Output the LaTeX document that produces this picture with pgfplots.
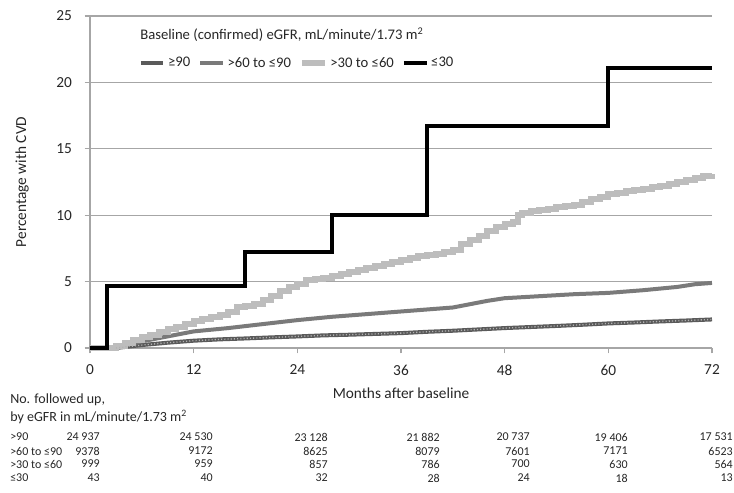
\documentclass[border=0pt]{standalone}
\usepackage{fontspec}
\setmainfont{Carlito}
\usepackage{pgfplots}
\pgfplotsset{compat=1.18}
\definecolor{gridgray}{HTML}{A6A6A6}
\definecolor{darkser}{HTML}{5A5A5A}
\definecolor{midser}{HTML}{7A7A7A}
\definecolor{lightser}{HTML}{BDBDBD}
\begin{document}
\begin{tikzpicture}
\begin{axis}[
  scale only axis,
  width=466.5pt, height=249pt,
  xmin=0, xmax=72, ymin=0, ymax=25,
  axis lines=left,
  axis line style={-, gridgray, line width=0.9pt},
  xtick={0,12,...,72}, ytick={0,5,...,25},
  tick align=outside,
  major tick length=4pt,
  tick style={gridgray, line width=0.9pt},
  ymajorgrids, grid style={gridgray, line width=0.9pt},
  /pgf/number format/assume math mode=true,
  ticklabel style={font=\fontsize{11.5}{13}\selectfont, color=black!85},
  xticklabel style={yshift=-5pt},
  yticklabel style={xshift=-6pt},
  xlabel={Months after baseline},
  ylabel={Percentage with CVD},
  every axis x label/.style={at={(axis description cs:0.5,0)}, anchor=center, yshift=-34pt, font=\fontsize{11.5}{13}\selectfont, color=black!85},
  every axis y label/.style={at={(axis description cs:-0.1093,0.5)}, rotate=90, anchor=center, font=\fontsize{11.5}{13}\selectfont, color=black!85},
  clip=false,
  legend columns=4,
  legend style={at={(rel axis cs:0.078,0.858)}, anchor=west, draw=none, fill=none, inner sep=0pt,
    font=\fontsize{11}{13}\selectfont, text=black!85,
    /tikz/every even column/.append style={column sep=4pt}},
  legend image code/.code={\draw[#1] (0pt,0pt) -- (17pt,0pt);},
]
% >=90
\addplot[darkser, line width=3pt] coordinates {
(0,0) (3,0) (6,0.22) (9,0.4) (12,0.55) (15,0.65) (18,0.72) (21,0.8) (24,0.87) (27,0.95) (30,1.0) (33,1.06) (36,1.12) (39,1.22) (42,1.3) (45,1.4) (48,1.5) (51,1.58) (54,1.66) (57,1.75) (60,1.85) (63,1.92) (66,2.0) (69,2.07) (72,2.15)};
\addlegendentry{≥90}
% >60 to <=90
\addplot[midser, line width=3pt] coordinates {
(0,0) (2,0) (4,0.2) (6,0.5) (8,0.75) (10,1.0) (12,1.25) (16,1.5) (20,1.8) (24,2.1) (28,2.35) (32,2.55) (36,2.75) (40,2.95) (42,3.05) (44,3.3) (46,3.55) (48,3.75) (52,3.9) (56,4.05) (60,4.15) (64,4.35) (68,4.6) (70,4.8) (72,4.9)};
\addlegendentry{>60 to ≤90}
% >30 to <=60
\addplot[lightser, line width=4.5pt, const plot] coordinates {
(0,0) (2,0) (3,0.15) (4,0.4) (5,0.6) (6,0.8) (7,1.0) (8,1.2) (9,1.4) (10,1.6) (11,1.8) (12,2.0) (13,2.15) (14,2.3) (15,2.5) (16,2.7) (17,3.1) (18,3.2) (19,3.3) (20,3.6) (21,3.9) (22,4.3) (23,4.6) (24,4.8) (25,5.1) (26,5.2) (27,5.3) (28,5.4) (29,5.55) (30,5.7) (31,5.85) (32,6.0) (33,6.15) (34,6.3) (35,6.45) (36,6.6) (37,6.75) (38,6.9) (39,7.0) (40,7.1) (41,7.25) (42,7.4) (43,7.8) (44,8.1) (45,8.4) (46,8.8) (47,9.1) (48,9.3) (49,9.5) (49.5,10.0) (50,10.2) (51,10.3) (52,10.4) (53,10.5) (54,10.6) (55,10.7) (56,10.8) (57,11.0) (58,11.2) (59,11.4) (60,11.6) (61,11.7) (62,11.8) (63,11.9) (64,12.0) (65,12.1) (66,12.2) (67,12.35) (68,12.5) (69,12.65) (70,12.8) (71,12.95) (72,13.1)};
\addlegendentry{>30 to ≤60}
% <=30
\addplot[black, line width=3pt, const plot] coordinates {
(0,0) (2,4.65) (18,7.2) (28,10.05) (39,16.7) (60,21.1) (72,21.1)};
\addlegendentry{≤30}
% texture on >=90
\addplot[forget plot, black!30, line width=1pt, dash pattern=on 0.8pt off 1.6pt] coordinates {
(3,0) (6,0.22) (9,0.4) (12,0.55) (15,0.65) (18,0.72) (21,0.8) (24,0.87) (27,0.95) (30,1.0) (33,1.06) (36,1.12) (39,1.22) (42,1.3) (45,1.4) (48,1.5) (51,1.58) (54,1.66) (57,1.75) (60,1.85) (63,1.92) (66,2.0) (69,2.07) (72,2.15)};
\node[anchor=west, font=\fontsize{11}{13}\selectfont, text=black!85, inner sep=0pt] at (rel axis cs:0.0804,0.943) {Baseline (confirmed) eGFR, mL/minute/1.73 m\textsuperscript{2}};
\end{axis}
% number at risk table
\begin{scope}[every node/.style={inner sep=0pt, text=black!85}]
\node[anchor=west, font=\fontsize{10.5}{12}\selectfont] at (-60pt,-39pt) {No. followed up,};
\node[anchor=west, font=\fontsize{10.5}{12}\selectfont] at (-60pt,-51.75pt) {by eGFR in mL/minute/1.73 m\textsuperscript{2}};
\foreach \lab/\y in {{>90}/-66.75pt, {>60 to ≤90}/-77.25pt, {>30 to ≤60}/-87pt, {≤30}/-97.5pt}
  \node[anchor=west, font=\fontsize{9}{10}\selectfont] at (-60pt,\y) {\lab};
\foreach \x/\a/\b/\c/\d in {7.5pt/24 937/9378/999/43, 92.25pt/24 530/9172/959/40, 178.5pt/23 128/8625/857/32, 262.5pt/21 882/8079/786/28, 330pt/20 737/7601/700/24, 403.5pt/19 406/7171/630/18, 482.25pt/17 531/6523/564/13}{
  \node[anchor=east, font=\fontsize{9}{10}\selectfont] at (\x,-66.75pt) {\a};
  \node[anchor=east, font=\fontsize{9}{10}\selectfont] at (\x,-77.25pt) {\b};
  \node[anchor=east, font=\fontsize{9}{10}\selectfont] at (\x,-87pt) {\c};
  \node[anchor=east, font=\fontsize{9}{10}\selectfont] at (\x,-97.5pt) {\d};
}
\end{scope}
\pgfresetboundingbox
\path[use as bounding box] (-67.5pt,-108pt) rectangle (483pt,261pt);
\end{tikzpicture}
\end{document}
